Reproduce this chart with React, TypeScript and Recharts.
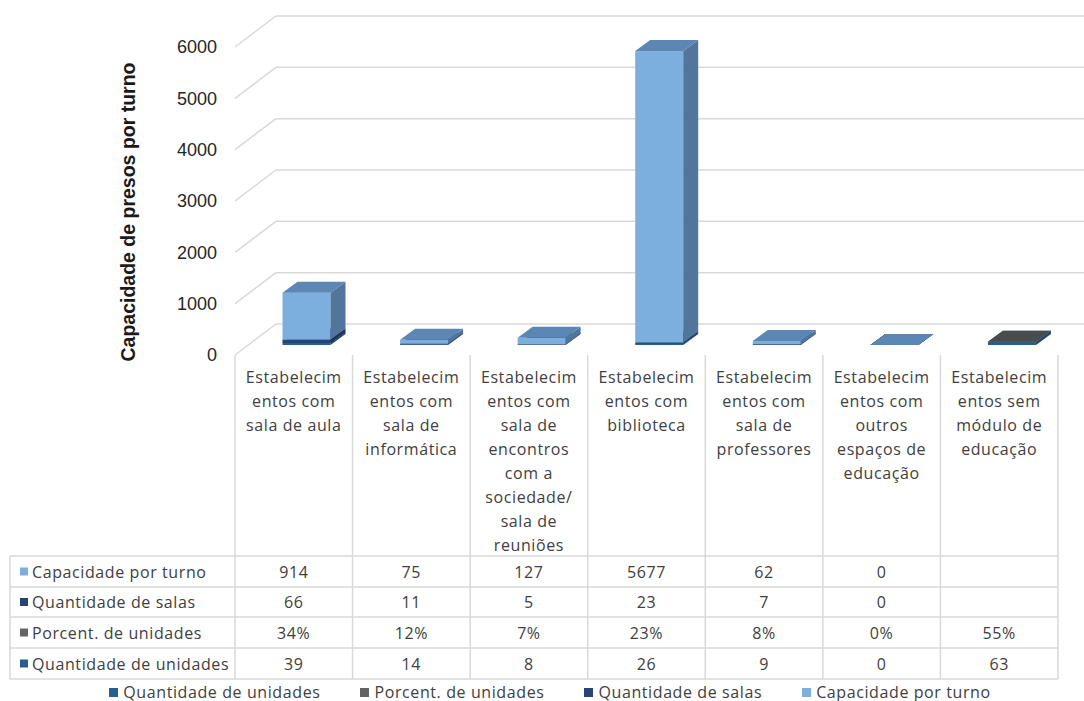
import React from "react";
import {
  BarChart,
  Bar,
  XAxis,
  YAxis,
  CartesianGrid,
  Legend,
  Customized,
} from "recharts";

// category labels, wrapped the way the original sheet wraps them
const categories = [
  ["Estabelecim", "entos com", "sala de aula"],
  ["Estabelecim", "entos com", "sala de", "informática"],
  ["Estabelecim", "entos com", "sala de", "encontros", "com a", "sociedade/", "sala de", "reuniões"],
  ["Estabelecim", "entos com", "biblioteca"],
  ["Estabelecim", "entos com", "sala de", "professores"],
  ["Estabelecim", "entos com", "outros", "espaços de", "educação"],
  ["Estabelecim", "entos sem", "módulo de", "educação"],
];

const qtdUnidades = [39, 14, 8, 26, 9, 0, 63];
const pctUnidades = [0.34, 0.12, 0.07, 0.23, 0.08, 0, 0.55];
const qtdSalas: (number | null)[] = [66, 11, 5, 23, 7, 0, null];
const capacidade: (number | null)[] = [914, 75, 127, 5677, 62, 0, null];

const yTicks = [0, 1000, 2000, 3000, 4000, 5000, 6000];

const FONT = "'Open Sans', 'Noto Sans', sans-serif";
const TEXT = "#404040";
const LINE = "#d9d9d9";
const FS = 16;
const LS = 0.6;

// layout of the front plane / table
const PLOT_LEFT = 235;
const PLOT_RIGHT = 1058;
const PLOT_TOP = 47;
const PLOT_BOTTOM = 355;
const TABLE_LEFT = 10;
const ROW_LINES = [556, 587, 617, 648, 679];
const BAND = (PLOT_RIGHT - PLOT_LEFT) / categories.length;

// 3D look
const WALL_DX = 41;
const WALL_DY = -31;
const FX = 12.5;
const FY = -10;
const DX = 15;
const DY = -11;

const series = [
  { key: "unidades", name: "Quantidade de unidades", front: "#255e91", side: "#1b4670", top: "#2a69a2" },
  { key: "pct", name: "Porcent. de unidades", front: "#636363", side: "#4e4e4e", top: "#4b4b4b" },
  { key: "salas", name: "Quantidade de salas", front: "#264478", side: "#1c345c", top: "#2c4f8a" },
  { key: "capacidade", name: "Capacidade por turno", front: "#7cafdd", side: "#52769b", top: "#5c87b4" },
];

const data = categories.map((lines, i) => ({
  name: lines.join(" "),
  unidades: qtdUnidades[i],
  pct: pctUnidades[i],
  salas: qtdSalas[i],
  capacidade: capacidade[i],
}));

// table rows, top to bottom
const tableRows = [
  { key: "capacidade", label: "Capacidade por turno", color: "#7cafdd", fmt: (v: number | null) => (v == null ? "" : String(v)) },
  { key: "salas", label: "Quantidade de salas", color: "#264478", fmt: (v: number | null) => (v == null ? "" : String(v)) },
  { key: "pct", label: "Porcent. de unidades", color: "#636363", fmt: (v: number | null) => (v == null ? "" : `${Math.round(v * 100)}%`) },
  { key: "unidades", label: "Quantidade de unidades", color: "#255e91", fmt: (v: number | null) => (v == null ? "" : String(v)) },
];

function makeBox(s: (typeof series)[number]) {
  return (props: any) => {
    const { x, y, width, height, payload } = props;
    if (payload == null || payload[s.key] == null) return <g />;
    const top = Math.min(y, y + height);
    const h = Math.abs(height);
    const fx = x + FX;
    const fy = top + FY;
    const w = width;
    return (
      <g>
        <rect x={fx} y={fy} width={w} height={h} fill={s.front} />
        <polygon
          points={`${fx + w},${fy} ${fx + w + DX},${fy + DY} ${fx + w + DX},${fy + h + DY} ${fx + w},${fy + h}`}
          fill={s.side}
        />
        <polygon
          points={`${fx},${fy} ${fx + w},${fy} ${fx + w + DX},${fy + DY} ${fx + DX},${fy + DY}`}
          fill={s.top}
        />
      </g>
    );
  };
}

function WallLine(props: any) {
  const { x1, y1 } = props;
  return (
    <g>
      <line x1={x1} y1={y1} x2={x1 + WALL_DX} y2={y1 + WALL_DY} stroke={LINE} strokeWidth={1.5} />
      <line x1={x1 + WALL_DX} y1={y1 + WALL_DY} x2={1084} y2={y1 + WALL_DY} stroke={LINE} strokeWidth={1.5} />
    </g>
  );
}

function CategoryTick(props: any) {
  const { x, index } = props;
  const lines = categories[index] || [];
  const left = x - BAND / 2;
  const row = data[index] as any;
  return (
    <g>
      <line x1={left} y1={PLOT_BOTTOM} x2={left} y2={ROW_LINES[ROW_LINES.length - 1]} stroke={LINE} strokeWidth={1.5} />
      {index === categories.length - 1 && (
        <line x1={left + BAND} y1={PLOT_BOTTOM} x2={left + BAND} y2={ROW_LINES[ROW_LINES.length - 1]} stroke={LINE} strokeWidth={1.5} />
      )}
      {lines.map((t, i) => (
        <text key={i} x={x} y={377 + i * 24} textAnchor="middle" dominantBaseline="central" fill={TEXT} fontSize={FS} letterSpacing={LS} fontFamily={FONT}>
          {t}
        </text>
      ))}
      {tableRows.map((r, i) => (
        <text
          key={r.key}
          x={x}
          y={(ROW_LINES[i] + ROW_LINES[i + 1]) / 2}
          textAnchor="middle"
          dominantBaseline="central"
          fill={TEXT}
          fontSize={FS}
          letterSpacing={LS}
          fontFamily={FONT}
        >
          {r.fmt(row[r.key])}
        </text>
      ))}
    </g>
  );
}

function TableFrame() {
  return (
    <g>
      {ROW_LINES.map((y) => (
        <line key={y} x1={TABLE_LEFT} y1={y} x2={PLOT_RIGHT} y2={y} stroke={LINE} strokeWidth={1.5} />
      ))}
      <line x1={TABLE_LEFT} y1={ROW_LINES[0]} x2={TABLE_LEFT} y2={ROW_LINES[ROW_LINES.length - 1]} stroke={LINE} strokeWidth={1.5} />
      {tableRows.map((r, i) => {
        const cy = (ROW_LINES[i] + ROW_LINES[i + 1]) / 2;
        return (
          <g key={r.key}>
            <rect x={20} y={cy - 4} width={8} height={8} fill={r.color} />
            <text x={32} y={cy} dominantBaseline="central" fill={TEXT} fontSize={FS} letterSpacing={LS} fontFamily={FONT}>
              {r.label}
            </text>
          </g>
        );
      })}
      <text
        transform="translate(128, 212) rotate(-90)"
        textAnchor="middle"
        dominantBaseline="central"
        fontSize={19.5}
        fontWeight="bold"
        fontFamily="'Liberation Sans', Arial, sans-serif"
        fill="#1a1a1a"
      >
        Capacidade de presos por turno
      </text>
    </g>
  );
}

function LegendContent() {
  return (
    <div style={{ display: "flex", justifyContent: "center", gap: 40, paddingLeft: 16, fontFamily: FONT, fontSize: FS, letterSpacing: LS, color: TEXT }}>
      {series.map((s) => (
        <div key={s.key} style={{ display: "flex", alignItems: "center" }}>
          <span style={{ width: 9, height: 9, background: s.front, marginRight: 5, display: "inline-block" }} />
          <span>{s.name}</span>
        </div>
      ))}
    </div>
  );
}

export default function App() {
  return (
    <div style={{ position: "absolute", left: 0, top: 0, width: 1084, height: 701, background: "#fff" }}>
      <BarChart
        width={1084}
        height={701}
        data={data}
        margin={{ top: PLOT_TOP, right: 1084 - PLOT_RIGHT, left: PLOT_LEFT - 60, bottom: 701 - PLOT_BOTTOM - 30 }}
        barSize={48}
      >
        <CartesianGrid vertical={false} horizontal={(p: any) => <WallLine key={p.key ?? p.index} {...p} />} />
        <XAxis dataKey="name" height={30} axisLine={false} tickLine={false} interval={0} tick={<CategoryTick />} />
        <YAxis
          width={60}
          domain={[0, 6000]}
          ticks={yTicks}
          axisLine={false}
          tickLine={false}
          tickSize={0}
          tickMargin={18}
          tick={{ fill: "#262626", fontSize: 18, fontFamily: "'Liberation Sans', Arial, sans-serif" }}
        />
        <Customized component={TableFrame} />
        {series.map((s) => (
          <Bar
            key={s.key}
            dataKey={s.key}
            name={s.name}
            stackId="a"
            fill={s.front}
            isAnimationActive={false}
            shape={makeBox(s)}
          />
        ))}
        <Legend
          layout="horizontal"
          verticalAlign="middle"
          align="center"
          wrapperStyle={{ top: 681, left: 0, width: 1084 }}
          content={<LegendContent />}
        />
      </BarChart>
    </div>
  );
}
